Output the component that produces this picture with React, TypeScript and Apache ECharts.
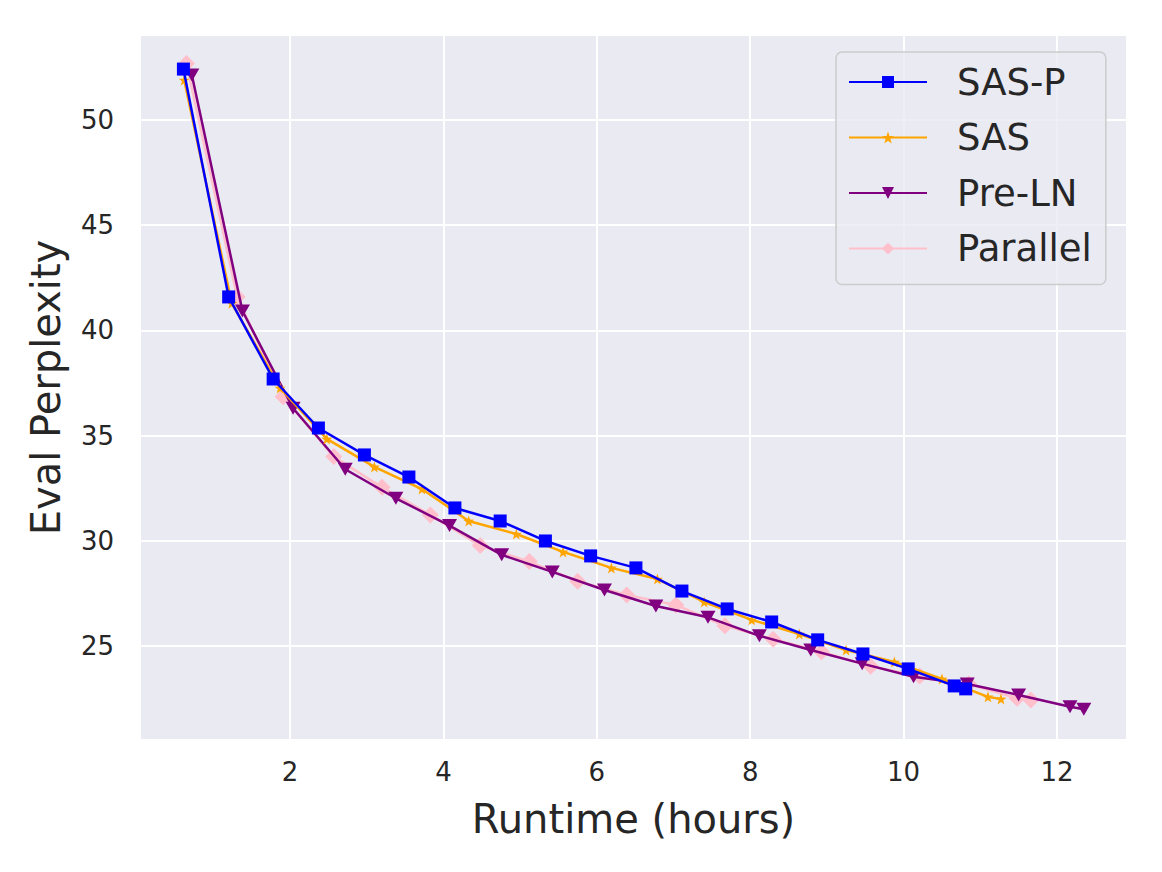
import React, { useEffect, useRef } from "react";
import * as echarts from "echarts";

const seriesNames = ["SAS-P", "SAS", "Pre-LN", "Parallel"];

const sasPX = [0.61, 1.20, 1.78, 2.37, 2.97, 3.55, 4.15, 4.74, 5.33, 5.92, 6.51, 7.11, 7.70, 8.28, 8.88, 9.47, 10.06, 10.66, 10.81];
const sasPY = [52.42, 41.59, 37.69, 35.36, 34.08, 33.03, 31.56, 30.94, 29.99, 29.28, 28.71, 27.61, 26.76, 26.14, 25.29, 24.62, 23.91, 23.10, 22.96];

const sasX = [0.62, 1.24, 1.87, 2.48, 3.10, 3.72, 4.33, 4.95, 5.56, 6.19, 6.79, 7.40, 8.02, 8.64, 9.25, 9.88, 10.50, 11.10, 11.27];
const sasY = [51.90, 41.29, 37.26, 34.84, 33.51, 32.46, 30.94, 30.32, 29.47, 28.71, 28.18, 27.09, 26.24, 25.57, 24.81, 24.24, 23.43, 22.58, 22.48];

const preLNX = [0.72, 1.38, 2.04, 2.72, 3.38, 4.08, 4.76, 5.42, 6.10, 6.77, 7.45, 8.12, 8.79, 9.46, 10.13, 10.83, 11.50, 12.17, 12.35];
const preLNY = [52.14, 40.92, 36.30, 33.40, 32.02, 30.72, 29.33, 28.52, 27.66, 26.90, 26.36, 25.48, 24.81, 24.16, 23.54, 23.19, 22.67, 22.11, 21.99];

const parallelX = [0.65, 1.31, 1.91, 2.57, 3.20, 3.83, 4.48, 5.12, 5.75, 6.39, 7.03, 7.67, 8.30, 8.93, 9.57, 10.21, 10.85, 11.48, 11.66];
const parallelY = [52.69, 41.60, 36.85, 34.00, 32.54, 31.23, 29.77, 29.01, 28.08, 27.42, 26.95, 25.96, 25.32, 24.73, 24.03, 23.57, 23.19, 22.51, 22.43];

const xTickStep = 2;
const yTickStep = 5;

const STAR =
  "path://M0,-10 L2.35,-3.24 L9.51,-3.09 L3.8,1.24 L5.88,8.09 L0,4 L-5.88,8.09 L-3.8,1.24 L-9.51,-3.09 L-2.35,-3.24 Z";

const zip = (xs: number[], ys: number[]) => xs.map((x, i) => [x, ys[i]]);

export default function App() {
  const ref = useRef<HTMLDivElement>(null);

  useEffect(() => {
    if (!ref.current) return;
    const chart = echarts.init(ref.current, null, { renderer: "svg" });
    const textColor = "#262626";
    const font = "DejaVu Sans";

    const mk = (
      name: string,
      data: number[][],
      color: string,
      symbol: string,
      size: number | number[],
      z: number,
      rotate = 0
    ) => ({
      name,
      type: "line",
      data,
      z,
      symbol,
      symbolSize: size,
      symbolRotate: rotate,
      showAllSymbol: true,
      lineStyle: { color, width: 2.5 },
      itemStyle: { color, borderWidth: 0 },
      emphasis: { disabled: true },
    });

    chart.setOption({
      animation: false,
      backgroundColor: "#ffffff",
      grid: {
        left: 140,
        right: 35,
        top: 35,
        bottom: 132,
        show: true,
        backgroundColor: "#EAEAF2",
        borderWidth: 0,
      },
      xAxis: {
        type: "value",
        min: 0.044,
        max: 12.913,
        splitNumber: 6,
        minInterval: xTickStep,
        maxInterval: xTickStep,
        axisLine: { show: false },
        axisTick: { show: false },
        splitLine: { show: true, lineStyle: { color: "#ffffff", width: 2 } },
        axisLabel: {
          color: textColor,
          fontFamily: font,
          fontSize: 26,
          margin: 19,
          showMinLabel: false,
          showMaxLabel: false,
          formatter: (v: number) =>
            Math.abs(v / xTickStep - Math.round(v / xTickStep)) < 1e-6 ? String(Math.round(v)) : "",
        },
        name: "Runtime (hours)",
        nameLocation: "middle",
        nameGap: 59,
        nameTextStyle: { color: textColor, fontFamily: font, fontSize: 40 },
      },
      yAxis: {
        type: "value",
        min: 20.53,
        max: 54.04,
        splitNumber: 7,
        minInterval: yTickStep,
        maxInterval: yTickStep,
        axisLine: { show: false },
        axisTick: { show: false },
        splitLine: { show: true, lineStyle: { color: "#ffffff", width: 2 } },
        axisLabel: {
          color: textColor,
          fontFamily: font,
          fontSize: 26,
          margin: 26,
          showMinLabel: false,
          showMaxLabel: false,
          formatter: (v: number) =>
            Math.abs(v / yTickStep - Math.round(v / yTickStep)) < 1e-6 ? String(Math.round(v)) : "",
        },
        name: "Eval Perplexity",
        nameLocation: "middle",
        nameGap: 74,
        nameRotate: 90,
        nameTextStyle: { color: textColor, fontFamily: font, fontSize: 40 },
      },
      legend: {
        data: seriesNames,
        orient: "vertical",
        left: 836,
        top: 52,
        itemWidth: 78,
        itemHeight: 15,
        itemGap: 15.5,
        padding: [10, 14, 16, 12],
        backgroundColor: "rgba(234,234,242,0.8)",
        borderColor: "#cccccc",
        borderWidth: 1.5,
        borderRadius: 6,
        textStyle: {
          color: textColor,
          fontFamily: font,
          fontSize: 37,
          lineHeight: 40,
          padding: [0, 0, 0, 25],
        },
      },
      series: [
        mk(seriesNames[0], zip(sasPX, sasPY), "#0000FF", "rect", 13, 5),
        mk(seriesNames[1], zip(sasX, sasY), "#FFA500", STAR, 11, 4),
        mk(seriesNames[2], zip(preLNX, preLNY), "#800080", "triangle", [15, 13], 3, 180),
        mk(seriesNames[3], zip(parallelX, parallelY), "#FFC0CB", "diamond", 17, 2),
      ],
    });

    return () => chart.dispose();
  }, []);

  return (
    <div
      ref={ref}
      style={{ position: "fixed", left: 0, top: 0, width: 1162, height: 872 }}
    />
  );
}
